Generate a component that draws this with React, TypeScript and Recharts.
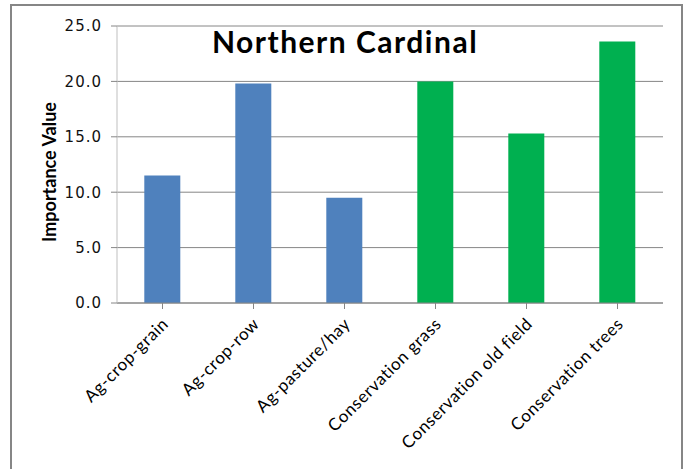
import { BarChart, Bar, Cell, XAxis, YAxis, CartesianGrid } from "recharts";

const categories = [
  "Ag-crop-grain",
  "Ag-crop-row",
  "Ag-pasture/hay",
  "Conservation grass",
  "Conservation old field",
  "Conservation trees",
];
const importance = [11.5, 19.8, 9.5, 20.0, 15.3, 23.6];
const barColors = ["#4F81BD", "#4F81BD", "#4F81BD", "#00B050", "#00B050", "#00B050"];
const yTicks = [0, 5, 10, 15, 20, 25];

const data = categories.map((name, i) => ({ name, value: importance[i] }));

const FONT = "Lato, 'Open Sans', sans-serif";

function CategoryTick(props: any) {
  const { x, y, payload } = props;
  return (
    <g transform={`translate(${x},${y})`}>
      <text
        x={7}
        y={14}
        textAnchor="end"
        transform="rotate(-45 7 14)"
        fontSize={17}
        letterSpacing={0.6}
        fontFamily={FONT}
        fill="#000"
      >
        {payload.value}
      </text>
    </g>
  );
}

export default function App() {
  return (
    <div style={{ position: "absolute", left: 0, top: 0, width: 691, height: 469, background: "#fff", overflow: "hidden" }}>
      <div
        style={{
          position: "absolute",
          left: 10,
          top: 4,
          width: 673,
          height: 480,
          border: "2px solid #868686",
          boxSizing: "border-box",
        }}
      />
      <BarChart
        width={691}
        height={469}
        data={data}
        margin={{ top: 26, right: 28, left: 0, bottom: 26 }}
        barCategoryGap="30%"
      >
        <CartesianGrid horizontal vertical={false} stroke="#868686" strokeWidth={1} />
        <XAxis
          dataKey="name"
          interval={0}
          height={140}
          tick={<CategoryTick />}
          axisLine={{ stroke: "#868686" }}
          tickLine={{ stroke: "#868686" }}
          tickSize={6}
        />
        <YAxis
          width={117}
          domain={[0, 25]}
          ticks={yTicks}
          tickFormatter={(v: number) => v.toFixed(1)}
          tick={{ fontSize: 15, fontFamily: "'DejaVu Sans', sans-serif", fill: "#111", letterSpacing: 1 }}
          axisLine={{ stroke: "#BFBFBF" }}
          tickLine={{ stroke: "#868686" }}
          tickSize={6}
          tickMargin={9}
        />
        <Bar dataKey="value" isAnimationActive={false}>
          {data.map((_, i) => (
            <Cell key={`cell-${i}`} fill={barColors[i]} />
          ))}
        </Bar>
        <text
          x={56}
          y={172}
          textAnchor="middle"
          transform="rotate(-90 56 172)"
          fontSize={18}
          fontWeight={700}
          fontFamily={FONT}
          fill="#000"
        >
          Importance Value
        </text>
        <text
          x={345}
          y={53}
          textAnchor="middle"
          fontSize={30}
          fontWeight={700}
          letterSpacing={1.5}
          fontFamily={FONT}
          fill="#000"
        >
          Northern Cardinal
        </text>
      </BarChart>
    </div>
  );
}
